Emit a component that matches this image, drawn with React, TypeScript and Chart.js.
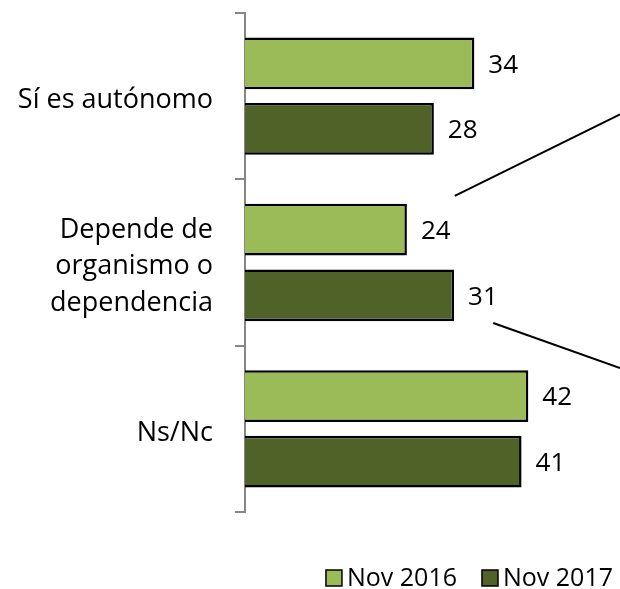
import React, { useEffect, useRef } from "react";
import { Chart, registerables } from "chart.js";

Chart.register(...registerables);

const categories: string[][] = [
  ["Sí es autónomo"],
  ["Depende de", "organismo o", "dependencia"],
  ["Ns/Nc"],
];
const seriesNames = ["Nov 2016", "Nov 2017"];
const nov2016 = [34, 24, 42];
const nov2017 = [28, 31, 41];
const seriesColors = ["#9BBB59", "#4F6228"];
const xMax = 55;

// decorative leader lines, in (value, category index) units
const calloutLines = [
  { from: [31.1, 0.6], to: [55.6, 0.11] },
  { from: [36.8, 1.364], to: [55.6, 1.634] },
];

const FONT = "'Open Sans', 'Noto Sans', sans-serif";

const valueLabels = {
  id: "valueLabels",
  afterDatasetsDraw(chart: any) {
    const ctx = chart.ctx;
    ctx.save();
    ctx.font = `26px ${FONT}`;
    ctx.fillStyle = "#000";
    ctx.textAlign = "left";
    ctx.textBaseline = "middle";
    chart.data.datasets.forEach((ds: any, di: number) => {
      const meta = chart.getDatasetMeta(di);
      meta.data.forEach((el: any, i: number) => {
        ctx.fillText(String(ds.data[i]), el.x + 14, el.y + 2);
      });
    });
    ctx.restore();
  },
};

const callouts = {
  id: "callouts",
  afterDraw(chart: any) {
    const ctx = chart.ctx;
    const xs = chart.scales.x;
    const ys = chart.scales.y;
    ctx.save();
    ctx.strokeStyle = "#000";
    ctx.lineWidth = 2;
    calloutLines.forEach((l) => {
      ctx.beginPath();
      ctx.moveTo(xs.getPixelForValue(l.from[0]), ys.getPixelForValue(l.from[1]));
      ctx.lineTo(xs.getPixelForValue(l.to[0]), ys.getPixelForValue(l.to[1]));
      ctx.stroke();
    });
    ctx.restore();
  },
};

const customLegend = {
  id: "customLegend",
  afterDraw(chart: any) {
    const ctx = chart.ctx;
    ctx.save();
    ctx.font = `25px ${FONT}`;
    ctx.textBaseline = "middle";
    ctx.textAlign = "left";
    const box = 16;
    const gapBoxText = 5;
    const gapItems = 25;
    const cy = 578;
    const items = chart.data.datasets.map((ds: any) => ({
      text: ds.label,
      color: ds.backgroundColor,
      w: ctx.measureText(ds.label).width,
    }));
    const total = items.reduce((s: number, it: any) => s + box + gapBoxText + it.w, 0) + gapItems * (items.length - 1);
    let x = 613 - total;
    items.forEach((it: any) => {
      ctx.fillStyle = it.color;
      ctx.fillRect(x, cy - box / 2, box, box);
      ctx.strokeStyle = "#000";
      ctx.lineWidth = 1.5;
      ctx.strokeRect(x, cy - box / 2, box, box);
      ctx.fillStyle = "#000";
      ctx.fillText(it.text, x + box + gapBoxText, cy + 1);
      x += box + gapBoxText + it.w + gapItems;
    });
    ctx.restore();
  },
};

export default function App() {
  const ref = useRef<HTMLCanvasElement | null>(null);
  useEffect(() => {
    if (!ref.current) return;
    const chart = new Chart(ref.current, {
      type: "bar",
      data: {
        labels: categories,
        datasets: [
          {
            label: seriesNames[0],
            data: nov2016,
            backgroundColor: seriesColors[0],
            borderColor: "#000",
            borderWidth: 2.5,
            barPercentage: 0.79,
            categoryPercentage: 0.788,
          },
          {
            label: seriesNames[1],
            data: nov2017,
            backgroundColor: seriesColors[1],
            borderColor: "#000",
            borderWidth: 2.5,
            barPercentage: 0.79,
            categoryPercentage: 0.788,
          },
        ],
      },
      options: {
        indexAxis: "y",
        animation: false,
        responsive: false,
        maintainAspectRatio: false,
        layout: { padding: { top: 13, right: 4, bottom: 77, left: 0 } },
        plugins: {
          legend: { display: false },
          tooltip: { enabled: false },
        },
        scales: {
          x: { type: "linear", min: 0, max: xMax, display: false },
          y: {
            type: "category",
            offset: true,
            grid: {
              display: true,
              drawOnChartArea: false,
              drawTicks: true,
              tickLength: 10,
              color: "#868686",
              lineWidth: 2,
              offset: true,
            },
            border: { display: true, color: "#868686", width: 2 },
            ticks: {
              color: "#000",
              padding: 22,
              labelOffset: 4,
              font: { family: FONT, size: 27, lineHeight: 1.35 },
            },
            afterFit: (s: any) => {
              s.width = 245;
              s.paddingTop = 0;
              s.paddingBottom = 0;
            },
          },
        },
      },
      plugins: [valueLabels, callouts, customLegend],
    });
    return () => chart.destroy();
  }, []);
  return (
    <div style={{ position: "fixed", left: 0, top: 0, width: 620, height: 589, background: "#fff" }}>
      <canvas ref={ref} width={620} height={589} />
    </div>
  );
}
